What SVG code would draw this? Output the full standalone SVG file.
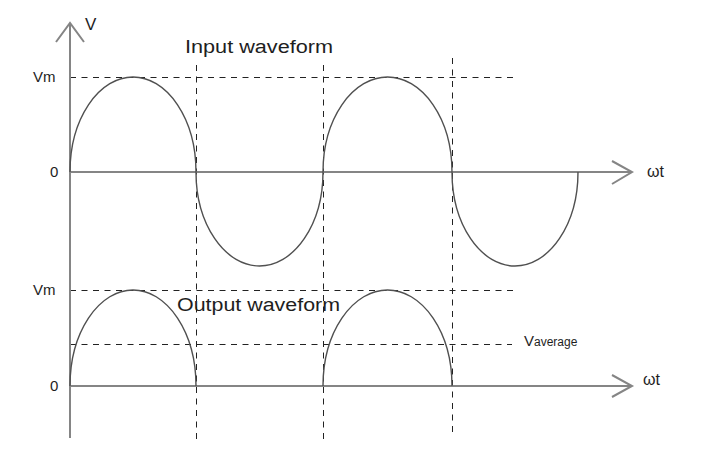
<svg xmlns="http://www.w3.org/2000/svg" width="704" height="470" viewBox="0 0 704 470">
<style>
.axis{stroke:#858585;stroke-width:2;fill:none}
.wave{stroke:#505050;stroke-width:1.4;fill:none}
.dash{stroke:#222;stroke-width:1;stroke-dasharray:6 5.5;fill:none}
.t{font-family:"Liberation Sans",Arial,sans-serif;fill:#1e1e1e}
</style>
<rect width="704" height="470" fill="#fff"/>
<g id="guides">
<line class="dash" x1="70" y1="77.5" x2="513" y2="77.5"/>
<line class="dash" x1="70" y1="290.5" x2="513" y2="290.5"/>
<line class="dash" x1="70" y1="344.5" x2="512" y2="344.5"/>
<line class="dash" x1="196.5" y1="65" x2="196.5" y2="440"/>
<line class="dash" x1="323.5" y1="65" x2="323.5" y2="440"/>
<line class="dash" x1="452.5" y1="58" x2="452.5" y2="433"/>
</g>
<g id="axes">
<line class="axis" x1="70" y1="23" x2="70" y2="438"/>
<polyline class="axis" points="56,42 70,23 84,42"/>
<line class="axis" x1="70" y1="172" x2="632" y2="172"/>
<polyline class="axis" points="612,161 632,172 612,184"/>
<line class="axis" x1="70" y1="386" x2="632" y2="386"/>
<polyline class="axis" points="612,375 632,386 612,397"/>
</g>
<g id="input-wave">
<path class="wave" d="M70,172 A63,95 0 0 1 196,172 A63.5,94 0 0 0 323,172 A64.5,95 0 0 1 452,172 A63,94 0 0 0 578,172"/>
</g>
<g id="output-wave">
<path class="wave" d="M70,386 A63,96 0 0 1 196,386"/>
<path class="wave" d="M323,386 A64.5,96 0 0 1 452,386"/>
</g>
<g id="labels">
<text class="t" x="85" y="30" font-size="17">V</text>
<text class="t" x="33" y="82" font-size="15">Vm</text>
<text class="t" x="50" y="177" font-size="15">0</text>
<text class="t" x="33" y="295" font-size="15">Vm</text>
<text class="t" x="50" y="391" font-size="15">0</text>
<text class="t" x="185" y="53" font-size="18" textLength="148" lengthAdjust="spacingAndGlyphs">Input waveform</text>
<text class="t" x="177" y="311" font-size="18" textLength="163" lengthAdjust="spacingAndGlyphs">Output waveform</text>
<text class="t" x="647" y="177" font-size="16">ωt</text>
<text class="t" x="643" y="385" font-size="16">ωt</text>
<text class="t" x="524" y="346" font-size="15">V<tspan font-size="12">average</tspan></text>
</g>
</svg>
